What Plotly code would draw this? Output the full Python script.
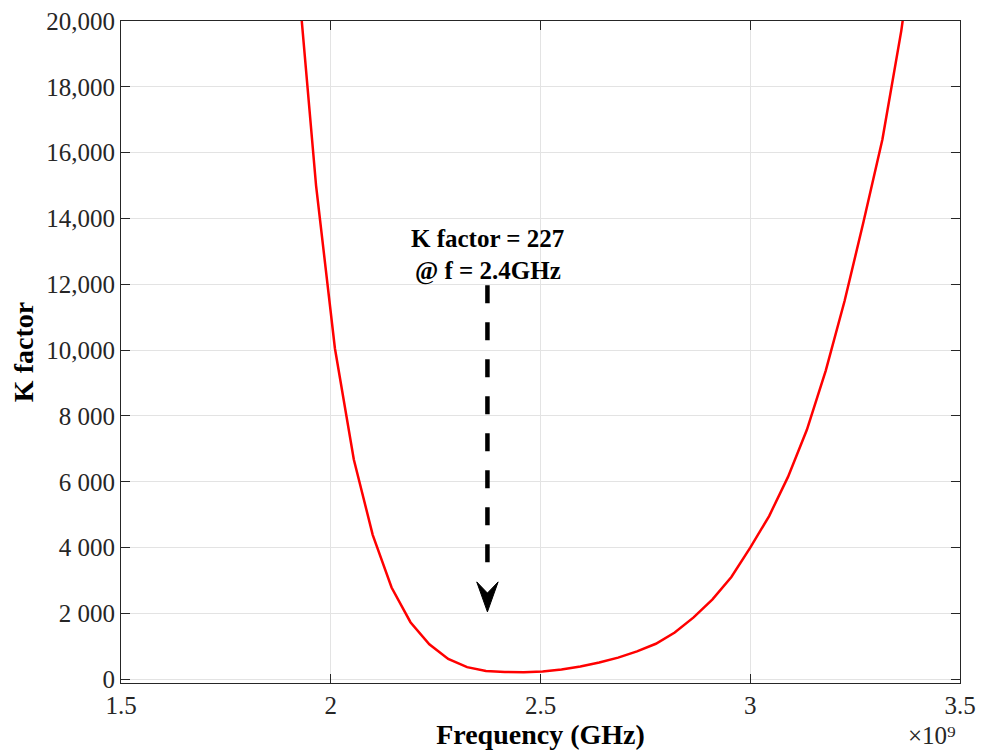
import plotly.graph_objects as go

# ---- data ----
freq_ghz = [1.920, 1.965, 2.010, 2.055, 2.100, 2.145, 2.190, 2.235, 2.280, 2.325,
            2.370, 2.415, 2.460, 2.505, 2.550, 2.595, 2.640, 2.685, 2.730, 2.775,
            2.820, 2.865, 2.910, 2.955, 3.000, 3.045, 3.090, 3.135, 3.180, 3.225,
            3.270, 3.315, 3.360, 3.405]
k_factor = [21600, 15000, 10050, 6680, 4390, 2790, 1735, 1065, 620, 370,
            255, 222, 215, 235, 300, 390, 510, 660, 850, 1080,
            1420, 1880, 2430, 3110, 4000, 4960, 6150, 7580, 9380, 11500,
            13900, 16400, 19700, 23800]

x_tickvals = [1.5e9, 2.0e9, 2.5e9, 3.0e9, 3.5e9]
x_ticktext = ["1.5", "2", "2.5", "3", "3.5"]
y_tickvals = [0, 2000, 4000, 6000, 8000, 10000, 12000, 14000, 16000, 18000, 20000]
y_ticktext = ["0", "2 000", "4 000", "6 000", "8 000", "10,000", "12,000",
              "14,000", "16,000", "18,000", "20,000"]

annot_line1 = "K factor = 227"
annot_line2 = "@ f = 2.4GHz"
annot_x = 2.374e9
annot_y1 = 13380
annot_y2 = 12420
arrow_x = 2.3735e9
arrow_y_start = 11973
arrow_y_end = 3510
head_tip_y = 2049
head_back_y = 2960
head_notch_y = 2620
head_half_w = 0.0255e9

freq_hz = [f * 1e9 for f in freq_ghz]

SERIF = "Liberation Serif, Times New Roman, serif"
AX_COL = "#262626"

fig = go.Figure()
fig.add_trace(go.Scatter(x=freq_hz, y=k_factor, mode="lines",
                         line=dict(color="#ff0000", width=2.5),
                         showlegend=False, hoverinfo="skip"))

# dashed arrow shaft
fig.add_shape(type="line", xref="x", yref="y",
              x0=arrow_x, y0=arrow_y_start, x1=arrow_x, y1=arrow_y_end,
              line=dict(color="black", width=4.5, dash="18px,19px"))
# arrow head (vback style)
fig.add_shape(type="path", xref="x", yref="y",
              path=(f"M {arrow_x},{head_tip_y} L {arrow_x - head_half_w},{head_back_y} "
                    f"L {arrow_x},{head_notch_y} L {arrow_x + head_half_w},{head_back_y} Z"),
              fillcolor="black", line=dict(color="black", width=1))

fig.add_annotation(x=annot_x, y=annot_y1, xref="x", yref="y", text=annot_line1,
                   showarrow=False, xanchor="center", yanchor="middle",
                   font=dict(family=SERIF, size=25, color="black", weight="bold"))
fig.add_annotation(x=annot_x, y=annot_y2, xref="x", yref="y", text=annot_line2,
                   showarrow=False, xanchor="center", yanchor="middle",
                   font=dict(family=SERIF, size=25, color="black", weight="bold"))

# x10^9 exponent label
fig.add_annotation(x=0.9976, y=-0.08, xref="paper", yref="paper",
                   text="×10⁹", showarrow=False,
                   xanchor="right", yanchor="middle",
                   font=dict(family=SERIF, size=25, color=AX_COL))

axis_common = dict(showline=True, linecolor=AX_COL, linewidth=1, mirror="ticks",
                   ticks="inside", ticklen=9, tickwidth=1, tickcolor=AX_COL,
                   showgrid=True, gridcolor="#e3e3e3", gridwidth=1, zeroline=False,
                   tickfont=dict(family=SERIF, size=25, color=AX_COL))

fig.update_xaxes(range=[1.5e9, 3.5e9], tickvals=x_tickvals, ticktext=x_ticktext,
                 title=dict(text="<b>Frequency (GHz)</b>", standoff=6,
                            font=dict(family=SERIF, size=28, color="black")),
                 **axis_common)
fig.update_yaxes(range=[-112, 20000], tickvals=y_tickvals, ticktext=y_ticktext,
                 title=dict(text="<b>K factor</b>", standoff=4,
                            font=dict(family=SERIF, size=28, color="black")),
                 **axis_common)

fig.update_layout(width=984, height=751,
                  margin=dict(l=121, r=24, t=21, b=68, autoexpand=False),
                  plot_bgcolor="white", paper_bgcolor="white")

fig.write_html("out.html")
